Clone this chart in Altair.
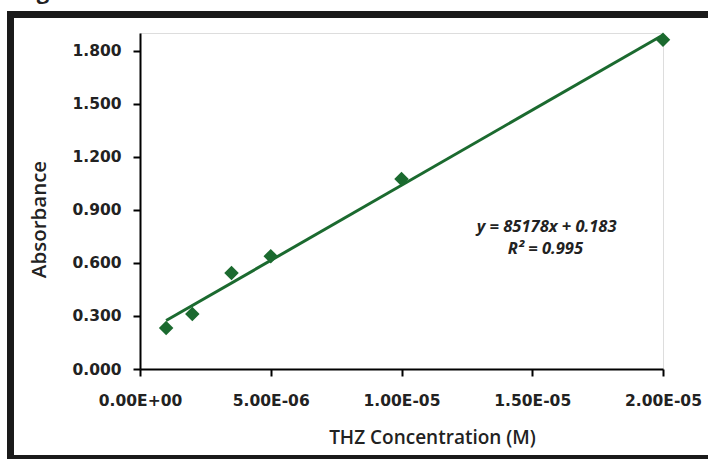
import altair as alt
import pandas as pd

# data
conc = [1.0e-6, 2.0e-6, 3.5e-6, 5.0e-6, 1.0e-5, 2.0e-5]
absorb = [0.232, 0.311, 0.543, 0.638, 1.075, 1.862]
x_ticks = [0, 5e-6, 1e-5, 1.5e-5, 2e-5]
y_ticks = [0.0, 0.3, 0.6, 0.9, 1.2, 1.5, 1.8]
eq_lines = ["y = 85178x + 0.183", "R² = 0.995"]
eq_x = [1.555e-5, 1.55e-5]
eq_y = [0.805, 0.678]

df = pd.DataFrame({"conc": conc, "abs": absorb})
eq_df = pd.DataFrame({"t": eq_lines, "x": eq_x, "y": eq_y})

GREEN = "#1b6a2f"
LABEL_FONT = "DejaVu Sans"

xscale = alt.Scale(domain=[0, 2e-5], nice=False, zero=False)
yscale = alt.Scale(domain=[0, 1.9], nice=False)

x_axis = alt.Axis(
    values=x_ticks,
    labelExpr="replace(replace(upper(format(datum.value, '.2e')), 'E-', 'E-0'), 'E+', 'E+0')",
    title="THZ  Concentration (M)",
    titleFont="Open Sans", titleFontSize=19, titleFontWeight=600, titleColor="#222",
    titlePadding=20, titleX=292,
    labelFont=LABEL_FONT, labelFontSize=15.5, labelFontWeight="bold", labelColor="#222",
    labelPadding=17, labelFlush=False,
    domainColor="#000", domainWidth=2, tickColor="#000", tickWidth=2, tickSize=7,
    grid=False,
)
y_axis = alt.Axis(
    values=y_ticks, format=".3f",
    title="Absorbance",
    titleFont="Open Sans", titleFontSize=20.5, titleFontWeight=600, titleColor="#222",
    titlePadding=22, titleY=186,
    labelFont=LABEL_FONT, labelFontSize=15.5, labelFontWeight="bold", labelColor="#222",
    labelPadding=12,
    domainColor="#000", domainWidth=2, tickColor="#000", tickWidth=2, tickSize=7,
    grid=False,
)

base = alt.Chart(df)

trend = base.transform_regression(
    "conc", "abs", extent=[1e-6, 2e-5]
).mark_line(color=GREEN, strokeWidth=3).encode(
    x=alt.X("conc:Q", scale=xscale, axis=x_axis),
    y=alt.Y("abs:Q", scale=yscale, axis=y_axis),
)

points = base.mark_point(shape="diamond", filled=True, size=210, color=GREEN, opacity=1).encode(
    x=alt.X("conc:Q", scale=xscale),
    y=alt.Y("abs:Q", scale=yscale),
)

eq = alt.Chart(eq_df).mark_text(
    font="Open Sans", fontSize=16.5, fontWeight="bold", fontStyle="italic", color="#222",
    align="center", baseline="middle",
).encode(
    x=alt.X("x:Q", scale=xscale),
    y=alt.Y("y:Q", scale=yscale),
    text="t:N",
)

frame = alt.Chart(pd.DataFrame({"a": [0]})).mark_rect(
    fill=None, stroke="#1a1a1a", strokeWidth=7
).encode(
    x=alt.value(-129.5), x2=alt.value(700),
    y=alt.value(-18.5), y2=alt.value(425.5),
)

fig = alt.Chart(pd.DataFrame({"a": [0]})).mark_text(
    text="Figure", font="Open Sans", fontSize=22, fontWeight="bold", color="#222",
    align="left", baseline="alphabetic",
).encode(x=alt.value(-122), y=alt.value(-34))

chart = alt.layer(trend, points, eq, frame, fig).properties(
    width=523, height=336,
    autosize=alt.AutoSizeParams(type="none"),
    padding={"left": 140, "top": 33, "right": 45, "bottom": 90},
).configure_view(stroke=None).configure(background="white")

chart.save("out.html", embed_options={"renderer": "svg", "actions": False})
